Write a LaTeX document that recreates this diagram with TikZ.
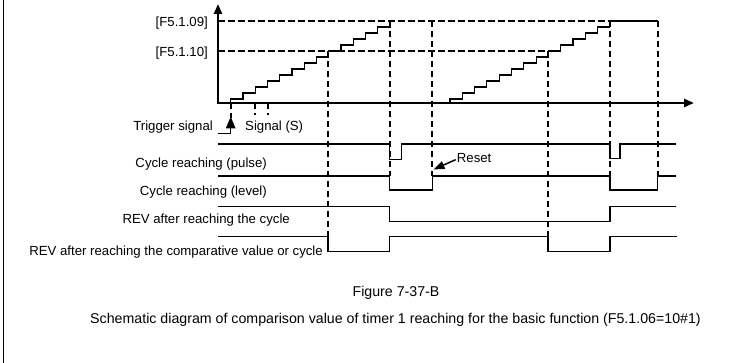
\documentclass[tikz,border=0pt]{standalone}
\usepackage{fontspec}
\setmainfont{Liberation Sans}
\usetikzlibrary{arrows.meta}
\begin{document}
\begin{tikzpicture}[x=1pt,y=-1pt,
  lbl/.style={inner sep=0pt,font=\fontsize{13.2}{15}\selectfont},
  cpt/.style={inner sep=0pt,font=\fontsize{14.2}{16}\selectfont},
  sig/.style={line width=1.1pt,line join=miter},
  dsh/.style={line width=2pt,dash pattern=on 6.5pt off 3.5pt},
  axisline/.style={line width=2.8pt},
  stair/.style={line width=1.1pt}]
\useasboundingbox (0,0) rectangle (736,363);
% left frame line
\draw[line width=1pt] (3.3,0) -- (3.3,363);
% dashed guide lines
\draw[dsh] (218,21) -- (610,21);
\draw[dsh] (218,51) -- (548,51);
\draw[dsh] (328,51) -- (328,236.7);
\draw[dsh] (389.5,21) -- (389.5,176);
\draw[dsh] (432.3,21) -- (432.3,176);
\draw[dsh] (548,51) -- (548,236.7);
\draw[dsh] (610,21) -- (610,176);
\draw[dsh] (657.7,21) -- (657.7,176);
\draw[dsh] (255,103) -- (255,115);
\draw[dsh] (267.7,103) -- (267.7,115);
\draw[dsh] (230.7,103) -- (230.7,118);
% staircases
\draw[stair] (230.7,103) -- (230.7,99)
  \foreach \i in {1,...,13} { -- ++(12.25,0) -- ++(0,-6) };
\draw[stair] (450,103) -- (450,99)
  \foreach \i in {1,...,13} { -- ++(12.3,0) -- ++(0,-6) } -- (657.7,21);
% axes
\draw[axisline,{Triangle[length=10pt,width=8pt]}-{Triangle[length=10pt,width=8pt]}] (218,4) |- (694,103);
% axis labels
\node[lbl,anchor=mid east] (f09) at (208,24) {[F5.1.09]};
\node[lbl,anchor=mid east] (f10) at (208,54) {[F5.1.10]};
% trigger
\draw[line width=1.1pt,-{Triangle[length=12pt,width=9.5pt]}] (218,133.3) -- (230.7,133.3) -- (230.7,116.5);
\node[lbl,anchor=mid east] (trig) at (213,128) {Trigger signal};
\node[lbl,anchor=mid west] (sigs) at (245,128) {Signal (S)};
% signals
\draw[sig] (218,144) -- (389.5,144) -- (389.5,159.3) -- (401.7,159.3) -- (401.7,144) -- (610,144) -- (610,158.3) -- (620,158.3) -- (620,144) -- (676,144);
\draw[sig] (218,176) -- (389.5,176) |- (432.3,190) |- (610,176) |- (657.7,190) |- (676,176);
\draw[sig] (218,206.7) -- (389.5,206.7) |- (610,221.7) |- (676,206.7);
\draw[sig] (218,236.7) -- (328,236.7) |- (389.5,251.7) |- (548,236.7) |- (610,251.7) |- (677,236.7);
\node[lbl,anchor=mid east] (pulse) at (267,164.5) {Cycle reaching (pulse)};
\node[lbl,anchor=mid east] (level) at (267,193) {Cycle reaching (level)};
\node[lbl,anchor=mid east] (revc) at (290,221) {REV after reaching the cycle};
\node[lbl,anchor=mid east] (revv) at (323,253) {REV after reaching the comparative value or cycle};
% reset
\node[lbl,anchor=mid west] (reset) at (456.7,159.5) {Reset};
\coordinate (rtip) at (433.5,169.5);
\draw[line width=1.5pt,-{Triangle[length=11pt,width=8pt]}] (reset.west) ++(-1,2) -- (rtip);
% captions
\node[cpt] (fig) at (396,293.3) {Figure 7-37-B};
\node[cpt] (cap) at (395.5,320) {Schematic diagram of comparison value of timer 1 reaching for the basic function (F5.1.06=10\#1)};
\end{tikzpicture}
\end{document}
